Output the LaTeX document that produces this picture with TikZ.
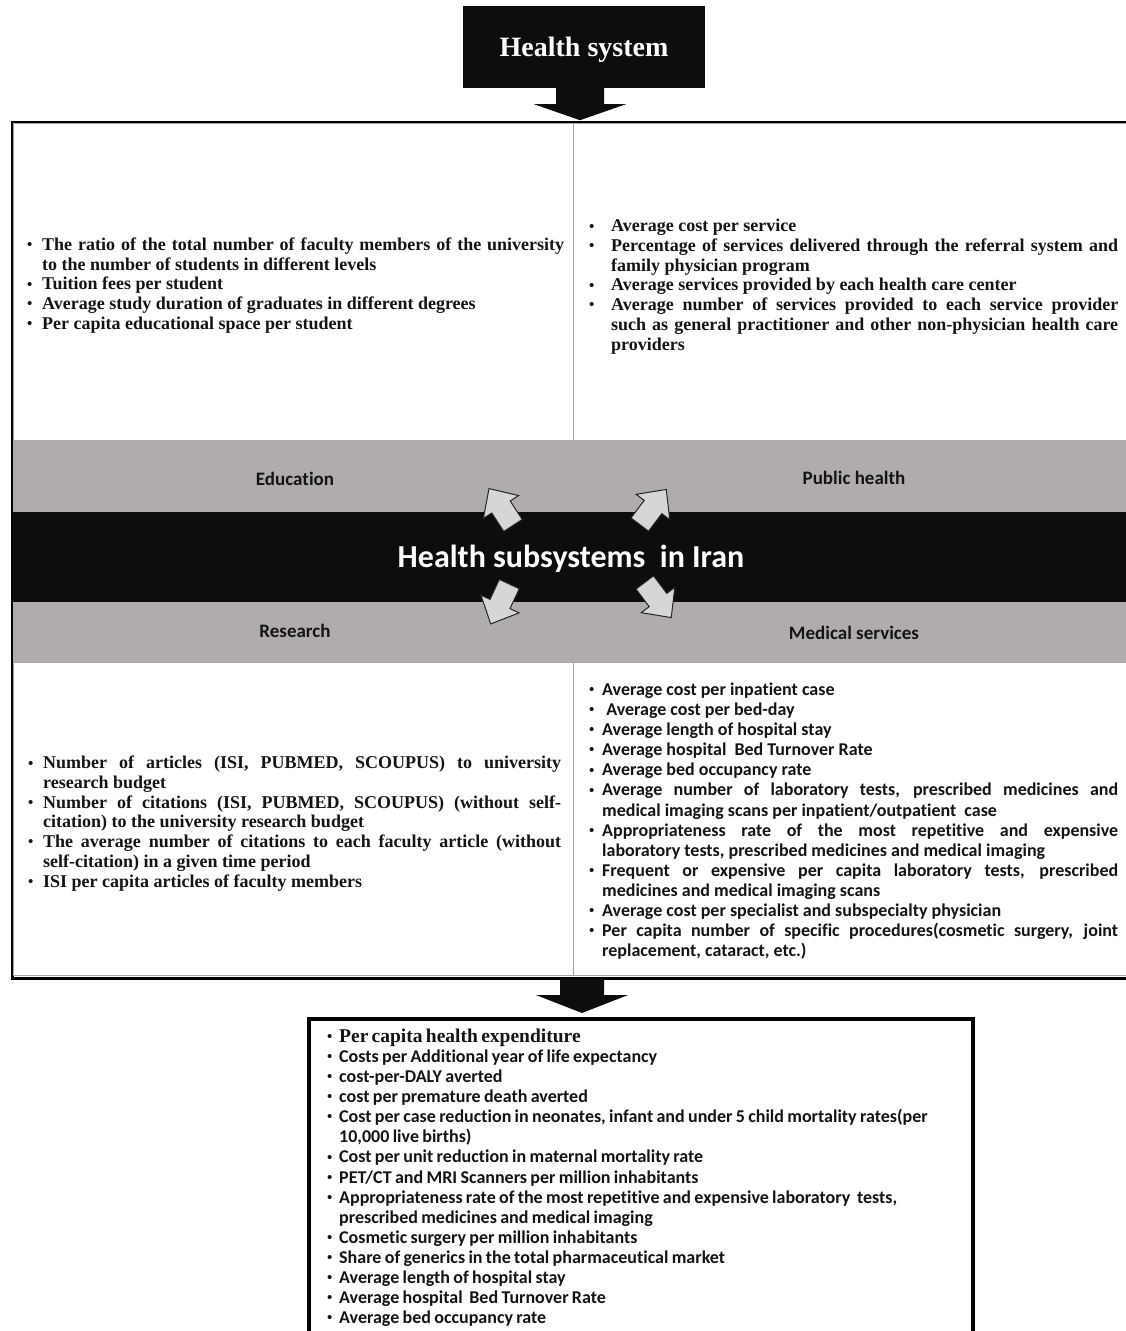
\documentclass[tikz,border=0pt]{standalone}
\usepackage{fontspec}
\setmainfont{Liberation Serif}
\newfontfamily\calfont[Ligatures=NoCommon]{Carlito}
\usetikzlibrary{calc}
\definecolor{bandgrey}{RGB}{176,172,171}
\definecolor{inkblack}{RGB}{13,13,13}
\definecolor{arrowfill}{RGB}{214,214,214}
\definecolor{cellgrey}{RGB}{165,165,165}
\definecolor{txtdark}{RGB}{20,20,20}
\newlength\bind
\newcommand\bulletmark{\raisebox{0.8pt}{\rmfamily\fontsize{15}{15}\selectfont\textbullet}}
\newcommand\bitem[1]{\par\noindent\hangindent=\bind\hangafter=1\makebox[\bind][l]{\bulletmark}#1}
\newcommand\tnrtext{\fontsize{18}{19.7}\selectfont\bfseries\tolerance=10000\hbadness=10000\parindent=0pt\parskip=0pt}
\newcommand\caltext{\calfont\fontsize{18}{20.1}\selectfont\bfseries\tolerance=10000\hbadness=10000\parindent=0pt\parskip=0pt}
\newcommand\smallarrow[3]{\draw[arrowshape, shift={(#1,#2)}, rotate=#3] (-22,-11) -- (0,-11) -- (0,-21) -- (22,0) -- (0,21) -- (0,11) -- (-22,11) -- cycle;}
\begin{document}
\begin{tikzpicture}[x=1pt,y=-1pt,
  cell/.style={draw=cellgrey, line width=1, fill=white},
  band/.style={fill=bandgrey, draw=none, inner sep=0pt, anchor=north west, minimum width=1118, minimum height=#1},
  bandlabel/.style={text=txtdark, font=\calfont\bfseries\fontsize{19}{22}\selectfont, inner sep=0pt},
  listblock/.style={inner sep=0pt, anchor=west, align=justify, text width=#1, text=txtdark},
  arrowshape/.style={fill=arrowfill, draw=black!85, line width=1},
  bigarrow/.style={fill=inkblack, draw=none}]
\useasboundingbox (0,0) rectangle (1125,1331);
\fill[white] (0,0) rectangle (1125,1331);

% Health system box
\node[fill=inkblack, minimum width=242, minimum height=82, inner sep=0pt] (hs) at (584,47) {};
\node[text=white, inner sep=0pt, font=\fontsize{28}{30}\selectfont\bfseries] (hstext) at (584,50) {Health system};

% outer frame
\node[draw=black, line width=3, fill=white, minimum width=1119, minimum height=856,
      inner sep=0pt, anchor=north west] (frame) at (11,121) {};

% white cells
\draw[cell] (13,123) rectangle (573,440);
\draw[cell] (573,123) rectangle (1128,440);
\draw[cell] (13,662) rectangle (573,975);
\draw[cell] (573,662) rectangle (1128,975);

% bands
\node[band=72] (bandtop) at (12.5,440) {};
\node[band=90, fill=inkblack] (bandmid) at (12.5,512) {};
\node[band=60] (bandbot) at (12.5,602) {};

\node[bandlabel] (edu) at (295,479) {Education};
\node[bandlabel] (pub) at (854,478) {Public health};
\node[bandlabel] (res) at (295,631) {Research};
\node[bandlabel] (med) at (854,633) {Medical services};
\node[text=white, inner sep=0pt, font=\calfont\bfseries\fontsize{32}{36}\selectfont] (title) at (571,559) {Health subsystems\ \ in Iran};

% small grey arrows
\smallarrow{501}{507}{123}
\smallarrow{653}{507}{53}
\smallarrow{500}{604}{245}
\smallarrow{658}{600}{-53}

% top arrow
\coordinate (a1) at ($(hs.south)+(-4,0)$);
\fill[bigarrow] (a1) ++(-24,0) -- ++(48,0) -- ++(0,16) -- ++(22,0) -- ++(-46,16) -- ++(-46,-16) -- ++(22,0) -- cycle;

% text blocks
\node[listblock=537] (edutext) at (27,282) {\tnrtext\setlength\bind{15pt}%
\bitem{The ratio of the total number of faculty members of the university\linebreak to the number of students in different levels}
\bitem{Tuition fees per student}
\bitem{Average study duration of graduates in different degrees}
\bitem{Per capita educational space per student}\par};

\node[listblock=529] (pubtext) at (589,283) {\tnrtext\setlength\bind{22pt}%
\bitem{Average cost per service}
\bitem{Percentage of services delivered through the referral system and\linebreak family physician program}
\bitem{Average services provided by each health care center}
\bitem{Average number of services provided to each service provider\linebreak such as general practitioner and other non-physician health care\linebreak providers}\par};

\node[listblock=533] (restext) at (28,820) {\tnrtext\setlength\bind{15pt}%
\bitem{Number of articles (ISI, PUBMED, SCOUPUS) to university\linebreak research budget}
\bitem{Number of citations (ISI, PUBMED, SCOUPUS) (without self-\linebreak citation) to the university research budget}
\bitem{The average number of citations to each faculty article (without\linebreak self-citation) in a given time period}
\bitem{ISI per capita articles of faculty members}\par};

\node[listblock=529] (medtext) at (589,817.5) {\caltext\setlength\bind{13pt}%
\bitem{Average cost per inpatient case}
\bitem{\ Average cost per bed-day}
\bitem{Average length of hospital stay}
\bitem{Average hospital\ \ Bed Turnover Rate}
\bitem{Average bed occupancy rate}
\bitem{Average number of laboratory tests, prescribed medicines and\linebreak medical imaging scans per inpatient/outpatient\ \ case}
\bitem{Appropriateness rate of the most repetitive and expensive\linebreak laboratory tests, prescribed medicines and medical imaging}
\bitem{Frequent or expensive per capita laboratory tests, prescribed\linebreak medicines and medical imaging scans}
\bitem{Average cost per specialist and subspecialty physician}
\bitem{Per capita number of specific procedures(cosmetic surgery, joint\linebreak replacement, cataract, etc.)}\par};

% bottom arrow
\coordinate (a2) at (582,979);
\fill[bigarrow] (a2) ++(-22,0) -- ++(44,0) -- ++(0,16) -- ++(24,0) -- ++(-46,18) -- ++(-46,-18) -- ++(24,0) -- cycle;

% bottom box
\node[draw=black, line width=4, fill=white, minimum width=664, minimum height=340,
      inner sep=0pt, anchor=north west] (outbox) at (307,1017) {};
\node[inner sep=0pt, anchor=north west, align=left, text width=640, text=txtdark] (outtext) at (327,1022) {\caltext\setlength\bind{12pt}\raggedright%
\bitem{{\rmfamily\fontsize{19.5}{20.1}\selectfont\bfseries Per capita health expenditure}}
\bitem{Costs per Additional year of life expectancy}
\bitem{cost-per-DALY averted}
\bitem{cost per premature death averted}
\bitem{Cost per case reduction in neonates, infant and under 5 child mortality rates(per\newline 10,000 live births)}
\bitem{Cost per unit reduction in maternal mortality rate}
\bitem{PET/CT and MRI Scanners per million inhabitants}
\bitem{Appropriateness rate of the most repetitive and expensive laboratory\ \ tests,\newline prescribed medicines and medical imaging}
\bitem{Cosmetic surgery per million inhabitants}
\bitem{Share of generics in the total pharmaceutical market}
\bitem{Average length of hospital stay}
\bitem{Average hospital\ \ Bed Turnover Rate}
\bitem{Average bed occupancy rate}\par};
\end{tikzpicture}
\end{document}
